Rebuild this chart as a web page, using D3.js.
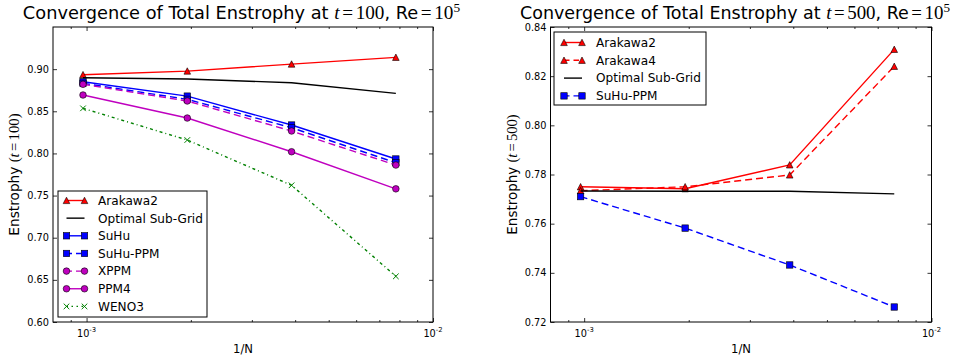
<!DOCTYPE html>
<html><head><meta charset="utf-8">
<script src="https://cdn.jsdelivr.net/npm/d3@7"></script>
<style>body{margin:0;background:#fff} svg{display:block}</style>
</head><body>
<svg id="c" width="953" height="360"></svg>
<script>
// ---------- data ----------
const gridN = [1024, 512, 256, 128];           // x = 1/N
const leftArakawa2 = [0.8934, 0.8977, 0.9060, 0.9140];
const leftOptimal  = [0.8898, 0.8883, 0.8839, 0.8713];
const leftSuHu     = [0.8850, 0.8680, 0.8337, 0.7934];
const leftSuHuPPM  = [0.8832, 0.8642, 0.8305, 0.7890];
const leftXPPM     = [0.8820, 0.8622, 0.8266, 0.7862];
const leftPPM4     = [0.8693, 0.8420, 0.8020, 0.7580];
const leftWENO3    = [0.8535, 0.8159, 0.7622, 0.6542];

const rightArakawa2 = [0.7750, 0.7742, 0.7839, 0.8309];
const rightArakawa4 = [0.7734, 0.7750, 0.7798, 0.8240];
const rightOptimal  = [0.7733, 0.7732, 0.7732, 0.7721];
const rightSuHuPPM  = [0.7710, 0.7582, 0.7432, 0.7261];

const leftNames  = ["Arakawa2", "Optimal Sub-Grid", "SuHu", "SuHu-PPM", "XPPM", "PPM4", "WENO3"];
const rightNames = ["Arakawa2", "Arakawa4", "Optimal Sub-Grid", "SuHu-PPM"];

const leftYTicks  = [0.60, 0.65, 0.70, 0.75, 0.80, 0.85, 0.90];
const rightYTicks = [0.72, 0.74, 0.76, 0.78, 0.80, 0.82, 0.84];
const xMajorTicks = [1e-3, 1e-2];
const xMajorExp   = ["-3", "-2"];
const xMinorTicks = [9e-4, 2e-3, 3e-3, 4e-3, 5e-3, 6e-3, 7e-3, 8e-3, 9e-3];

const leftTime = "100", rightTime = "500";

// ---------- styles ----------
const STY = {
  "Optimal Sub-Grid": {c:"#000000", dash:null, m:null},
  "SuHu": {c:"#0000ff", dash:null, m:"sq"},
  "SuHu-PPM": {c:"#0000ff", dash:"7,4", m:"sq"},
  "XPPM": {c:"#bf00bf", dash:"7,4", m:"circ"},
  "PPM4": {c:"#bf00bf", dash:null, m:"circ"},
  "WENO3": {c:"#008000", dash:"3,3,1,3", m:"x"},
  "Arakawa2": {c:"#ff0000", dash:null, m:"tri"},
  "Arakawa4": {c:"#ff0000", dash:"7,4", m:"tri"}
};

const svg = d3.select("#c");
const SANS = "DejaVu Sans, sans-serif";
const SERIF = "Liberation Serif, DejaVu Serif, serif";

function measure(str, family, size) {
  const t = svg.append("text").style("font-family", family).style("font-size", size + "px").text(str);
  const w = t.node().getComputedTextLength();
  t.remove();
  return w;
}
// font sizes fitted to widths
const FS_TICK   = 10 * 21.7 / measure("0.85", SANS, 10);
const FS_LEGEND = 12 * 105 / measure("Optimal Sub-Grid", SANS, 12);
const FS_XLAB   = 12 * 20 / measure("1/N", SANS, 12);

function drawMarker(g, type, cx, cy, color) {
  if (!type) return;
  if (type === "tri") {
    g.append("path").attr("d", `M${cx},${cy-3.3}L${cx-3.3},${cy+3.1}L${cx+3.3},${cy+3.1}Z`)
      .attr("fill", color).attr("stroke", "#000").attr("stroke-width", 0.6);
  } else if (type === "sq") {
    g.append("rect").attr("x", cx-3.2).attr("y", cy-3.2).attr("width", 6.4).attr("height", 6.4)
      .attr("fill", color).attr("stroke", "#000").attr("stroke-width", 0.6);
  } else if (type === "circ") {
    g.append("circle").attr("cx", cx).attr("cy", cy).attr("r", 3.3)
      .attr("fill", color).attr("stroke", "#000").attr("stroke-width", 0.6);
  } else if (type === "x") {
    g.append("path").attr("d", `M${cx-2.8},${cy-2.8}L${cx+2.8},${cy+2.8}M${cx-2.8},${cy+2.8}L${cx+2.8},${cy-2.8}`)
      .attr("stroke", color).attr("stroke-width", 1).attr("fill", "none");
  }
}

// text built from parts; fitted so its total width equals target
function fittedMath(g, parts, base, target, attrs) {
  function build(k) {
    const t = g.append("text").attr("fill", "#000");
    Object.entries(attrs).forEach(([a, v]) => t.attr(a, v));
    parts.forEach(p => {
      const s = t.append("tspan").text(p.t)
        .style("font-family", p.f === "sans" ? SANS : SERIF)
        .style("font-size", (base * (p.r || 1) * k) + "px");
      if (p.it) s.style("font-style", "italic");
      if (p.dx) s.attr("dx", p.dx * k);
      if (p.dy) s.attr("dy", p.dy * k);
    });
    return t;
  }
  const t0 = build(1);
  const w = t0.node().getComputedTextLength();
  t0.remove();
  return build(target / w);
}

function panel(o) {
  const x = d3.scaleLog().domain([8e-4, 1e-2]).range([o.x0, o.x1]);
  const y = d3.scaleLinear().domain(o.yDomain).range([o.y1, o.y0]);
  const g = svg.append("g");

  // series
  o.series.forEach(s => {
    const st = STY[s.name];
    const pts = gridN.map((n, i) => [x(1 / n), y(s.values[i])]);
    const p = g.append("path").attr("d", d3.line()(pts))
      .attr("fill", "none").attr("stroke", st.c).attr("stroke-width", 1.4);
    if (st.dash) p.attr("stroke-dasharray", st.dash);
    pts.forEach(q => drawMarker(g, st.m, q[0], q[1], st.c));
  });

  // axes
  const axL = g.append("g").attr("transform", `translate(${o.x0},0)`)
    .call(d3.axisLeft(y).tickValues(o.yTicks).tickSize(-4).tickPadding(4).tickFormat(d3.format(".2f")));
  const axR = g.append("g").attr("transform", `translate(${o.x1},0)`)
    .call(d3.axisRight(y).tickValues(o.yTicks).tickSize(-4).tickFormat(""));
  const axB = g.append("g").attr("transform", `translate(0,${o.y1})`)
    .call(d3.axisBottom(x).tickValues(xMajorTicks).tickSize(-4).tickFormat(""));
  const axBm = g.append("g").attr("transform", `translate(0,${o.y1})`)
    .call(d3.axisBottom(x).tickValues(xMinorTicks).tickSize(-2).tickFormat(""));
  const axT = g.append("g").attr("transform", `translate(0,${o.y0})`)
    .call(d3.axisTop(x).tickValues(xMajorTicks).tickSize(-4).tickFormat(""));
  const axTm = g.append("g").attr("transform", `translate(0,${o.y0})`)
    .call(d3.axisTop(x).tickValues(xMinorTicks).tickSize(-2).tickFormat(""));
  [axL, axR, axB, axBm, axT, axTm].forEach(a => {
    a.select(".domain").remove();
    a.selectAll(".tick line").attr("stroke", "#000").attr("stroke-width", 0.8);
  });
  axL.selectAll(".tick text").style("font-family", SANS).style("font-size", FS_TICK + "px").attr("fill", "#000");

  // x tick labels 10^-3 etc
  xMajorTicks.forEach((v, i) => {
    const t = g.append("text").attr("x", x(v)).attr("y", o.y1 + 15)
      .attr("text-anchor", "middle").style("font-family", SANS).style("font-size", FS_TICK + "px");
    t.append("tspan").text("10");
    t.append("tspan").text(xMajorExp[i]).attr("dy", -5).style("font-size", (FS_TICK * 0.7) + "px");
  });

  // frame
  g.append("rect").attr("x", o.x0).attr("y", o.y0).attr("width", o.x1 - o.x0).attr("height", o.y1 - o.y0)
    .attr("fill", "none").attr("stroke", "#000").attr("stroke-width", 1);

  // legend
  const L = o.legend;
  g.append("rect").attr("x", L.x).attr("y", L.y).attr("width", L.w).attr("height", L.h)
    .attr("fill", "#fff").attr("stroke", "#000").attr("stroke-width", 1);
  o.series.forEach((s, i) => {
    const st = STY[s.name];
    const yy = L.y + L.first + i * L.step;
    const p = g.append("line").attr("x1", L.x + L.m1).attr("x2", L.x + L.m2).attr("y1", yy).attr("y2", yy)
      .attr("stroke", st.c).attr("stroke-width", 1.4);
    if (st.dash) p.attr("stroke-dasharray", st.dash === "7,4" ? "5.5,4" : "1.5,3.5,1.5,3.5");
    drawMarker(g, st.m, L.x + L.m1, yy, st.c);
    drawMarker(g, st.m, L.x + L.m2, yy, st.c);
    g.append("text").attr("x", L.x + L.tx).attr("y", yy + FS_LEGEND * 0.36).text(s.name)
      .style("font-family", SANS).style("font-size", FS_LEGEND + "px").attr("fill", "#000");
  });

  // title
  const cx = (o.x0 + o.x1) / 2;
  fittedMath(g, [
    {t: "Convergence of Total Enstrophy at ", f: "sans"},
    {t: "t", it: true, r: 1.08},
    {t: "=", dx: 2.5, r: 1.08},
    {t: o.tval, dx: 2.5, r: 1.08},
    {t: ", Re", f: "sans"},
    {t: "=", dx: 2.5, r: 1.08},
    {t: "10", dx: 2.5, r: 1.08},
    {t: "5", dy: -7, r: 0.75}
  ], 17, o.titleW, {x: o.titleX, y: 19, "text-anchor": "middle"});

  // y label
  fittedMath(g, [
    {t: "Enstrophy ", f: "sans"},
    {t: "(", r: 1.08},
    {t: "t", it: true, r: 1.08},
    {t: "=", dx: 2, r: 1.08},
    {t: o.tval, dx: 2, r: 1.08},
    {t: ")", r: 1.08}
  ], 12.5, o.ylabW, {transform: `translate(${o.ylabX},${(o.y0 + o.y1) / 2}) rotate(-90)`, "text-anchor": "middle"});

  // x label
  g.append("text").attr("x", cx).attr("y", 353).attr("text-anchor", "middle")
    .style("font-family", SANS).style("font-size", FS_XLAB + "px").text("1/N");
}

const leftVals = [leftArakawa2, leftOptimal, leftSuHu, leftSuHuPPM, leftXPPM, leftPPM4, leftWENO3];
const rightVals = [rightArakawa2, rightArakawa4, rightOptimal, rightSuHuPPM];

panel({
  x0: 53, x1: 433, y0: 27, y1: 322, yDomain: [0.60, 0.95], yTicks: leftYTicks, tval: leftTime,
  titleW: 427, titleX: 241.5, ylabW: 118, ylabX: 19,
  series: leftNames.map((n, i) => ({name: n, values: leftVals[i]})),
  legend: {x: 58, y: 191, w: 149, h: 126, first: 9.5, step: 17.65, m1: 8.5, m2: 26.5, tx: 40}
});
panel({
  x0: 550.5, x1: 931.5, y0: 27, y1: 322, yDomain: [0.72, 0.84], yTicks: rightYTicks, tval: rightTime,
  titleW: 420, titleX: 735, ylabW: 116, ylabX: 517,
  series: rightNames.map((n, i) => ({name: n, values: rightVals[i]})),
  legend: {x: 554, y: 32, w: 152, h: 73, first: 10.5, step: 17.8, m1: 10, m2: 28, tx: 42}
});
</script>
</body></html>
